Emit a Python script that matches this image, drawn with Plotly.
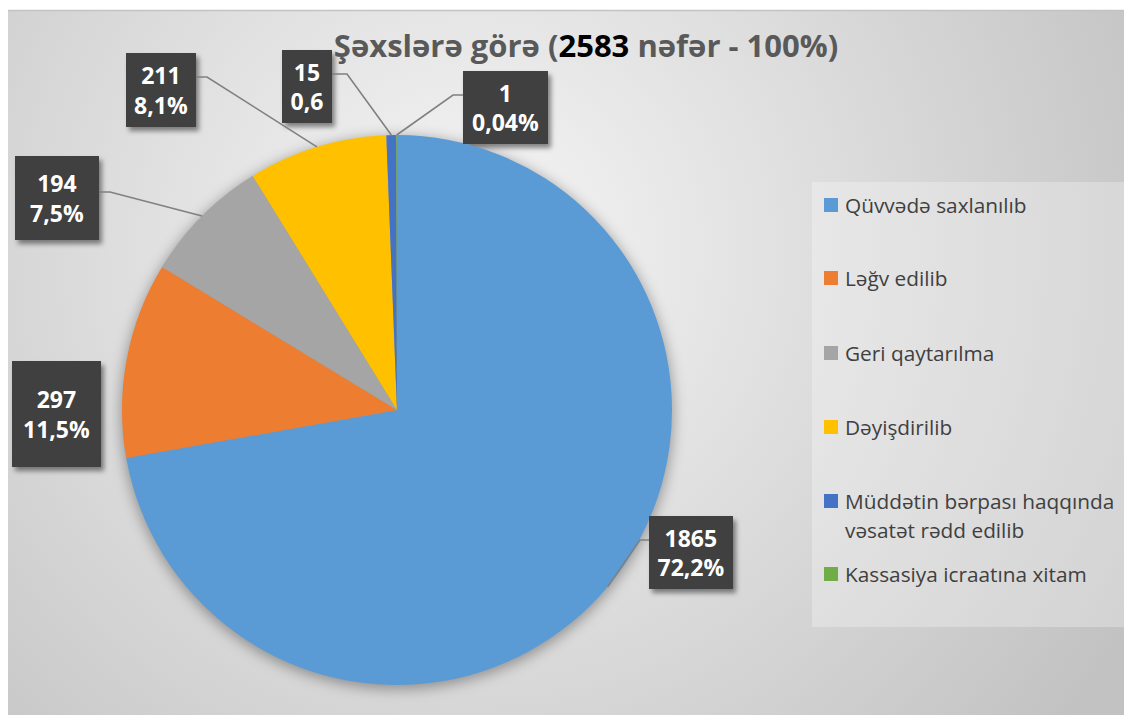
import math
import base64
import plotly.graph_objects as go

# ---------------- data ----------------
categories = [
    "Qüvvədə saxlanılıb",
    "Ləğv edilib",
    "Geri qaytarılma",
    "Dəyişdirilib",
    "Müddətin bərpası haqqında<br>vəsatət rədd edilib",
    "Kassasiya icraatına xitam",
]
values = [1865, 297, 194, 211, 15, 1]
pct_labels = ["72,2%", "11,5%", "7,5%", "8,1%", "0,6", "0,04%"]
colors = ["#5B9BD5", "#ED7D31", "#A5A5A5", "#FFC000", "#4472C4", "#70AD47"]
title_total = 2583

# ---------------- layout geometry (page pixels) ----------------
OFF = 8                      # browser body margin
FW, FH = 1132 - OFF, 715 - OFF
CX, CY, R = 397, 410, 275    # pie centre / radius on the page

label_boxes = [
    (649, 516, 733, 589),
    (12, 361, 101, 467),
    (15, 156, 99, 240),
    (126, 53, 196, 127),
    (282, 50, 332, 123),
    (463, 71, 548, 144),
]
leader_anchor = [(649, 540), None, (99, 192), (196, 77), (332, 74), (463, 95)]
leader_elbow = [(640, 540), None, (110, 192), (207, 77), (347, 74), (453, 95)]

legend_box = (812, 182, 1126, 627)
legend_rows = [205, 278, 353, 427, 501, 574]
legend_line_gap = 29

FONT = "Open Sans, Lato, sans-serif"


def px(x):
    return (x - OFF) / FW


def py(y):
    return 1 - (y - OFF) / FH


# ---------------- background (gradient + soft shadows), figure coords ----------------
shadow_rects = "".join(
    f'<rect x="{b[0]+3-OFF}" y="{b[1]+4-OFF}" width="{b[2]-b[0]}" height="{b[3]-b[1]}" '
    f'fill="#000" fill-opacity="0.45" filter="url(#s)"/>'
    for b in label_boxes
)
svg = f'''<svg xmlns="http://www.w3.org/2000/svg" width="{FW}" height="{FH}" viewBox="0 0 {FW} {FH}">
<defs>
<radialGradient id="g" gradientUnits="userSpaceOnUse" cx="{470-OFF}" cy="{250-OFF}" r="760">
<stop offset="0" stop-color="#f6f6f6"/>
<stop offset="1" stop-color="#c2c2c2"/>
</radialGradient>
<filter id="b" x="-20%" y="-20%" width="140%" height="140%"><feGaussianBlur stdDeviation="7"/></filter>
<filter id="s" x="-30%" y="-30%" width="160%" height="160%"><feGaussianBlur stdDeviation="2.5"/></filter>
</defs>
<rect x="0" y="0" width="{FW}" height="{FH}" fill="#ffffff"/>
<rect x="-1" y="{10.5-OFF}" width="{FW+2}" height="{FH}" fill="url(#g)" stroke="#c3c3c3" stroke-width="1.5"/>
<circle cx="{CX-OFF}" cy="{CY+3-OFF}" r="{R+1}" fill="#000" fill-opacity="0.35" filter="url(#b)"/>
{shadow_rects}
</svg>'''
bg_src = "data:image/svg+xml;base64," + base64.b64encode(svg.encode("utf-8")).decode()

# ---------------- figure ----------------
fig = go.Figure()
fig.add_trace(
    go.Pie(
        labels=categories,
        values=values,
        sort=False,
        direction="clockwise",
        rotation=0,
        marker=dict(colors=colors, line=dict(width=0)),
        textinfo="none",
        hoverinfo="label+value+percent",
        showlegend=False,
        domain=dict(x=[px(CX - R), px(CX + R)], y=[py(CY + R), py(CY - R)]),
    )
)

shapes = []
annotations = []

# leader lines computed from slice mid-angles
total = sum(values)
cum = 0
for i, v in enumerate(values):
    mid = (cum + v / 2) / total * 2 * math.pi
    cum += v
    ex, ey = CX + R * math.sin(mid), CY - R * math.cos(mid)
    if leader_anchor[i] is not None:
        ax, ay = leader_anchor[i]
        bx, by = leader_elbow[i]
        shapes.append(dict(
            type="path", xref="paper", yref="paper", layer="above",
            path=f"M {px(ax)} {py(ay)} L {px(bx)} {py(by)} L {px(ex)} {py(ey)}",
            line=dict(color="#808080", width=1.6),
        ))

# data label boxes
for i, v in enumerate(values):
    x0, y0, x1, y1 = label_boxes[i]
    annotations.append(dict(
        xref="paper", yref="paper",
        x=px((x0 + x1) / 2), y=py((y0 + y1) / 2),
        xanchor="center", yanchor="middle",
        width=x1 - x0, height=y1 - y0,
        text=f"<b>{v}</b><br><b>{pct_labels[i]}</b>",
        showarrow=False, align="center", valign="middle",
        bgcolor="#404040", borderpad=0, borderwidth=0,
        font=dict(family=FONT, size=23, color="#ffffff"),
    ))

# legend (manual, to match generous spacing)
lx0, ly0, lx1, ly1 = legend_box
shapes.append(dict(
    type="rect", xref="paper", yref="paper", layer="below",
    x0=px(lx0), x1=px(lx1), y0=py(ly1), y1=py(ly0),
    fillcolor="rgba(255,255,255,0.28)", line=dict(width=0),
))
for i, cat in enumerate(categories):
    yc = legend_rows[i]
    shapes.append(dict(
        type="rect", xref="paper", yref="paper", layer="above",
        x0=px(824), x1=px(838), y0=py(yc + 7), y1=py(yc - 7),
        fillcolor=colors[i], line=dict(width=0),
    ))
    for j, line in enumerate(cat.split("<br>")):
        annotations.append(dict(
            xref="paper", yref="paper",
            x=px(843), y=py(yc + j * legend_line_gap),
            xanchor="left", yanchor="middle",
            text=line, showarrow=False,
            font=dict(family=FONT, size=20.8, color="#404040"),
        ))

fig.update_layout(
    width=FW, height=FH,
    margin=dict(l=0, r=0, t=0, b=0),
    paper_bgcolor="rgba(0,0,0,0)",
    plot_bgcolor="rgba(0,0,0,0)",
    title=dict(
        text=f"<b>Şəxslərə görə (<span style='color:#000000'>{title_total}</span> nəfər - 100%)</b>",
        x=px(586), y=py(46), xanchor="center", yanchor="middle",
        font=dict(family=FONT, size=31, color="#595959"),
    ),
    images=[dict(
        source=bg_src, xref="paper", yref="paper", x=0, y=1,
        sizex=1, sizey=1, sizing="stretch", layer="below",
        xanchor="left", yanchor="top",
    )],
    shapes=shapes,
    annotations=annotations,
)

fig.write_html("out.html")
